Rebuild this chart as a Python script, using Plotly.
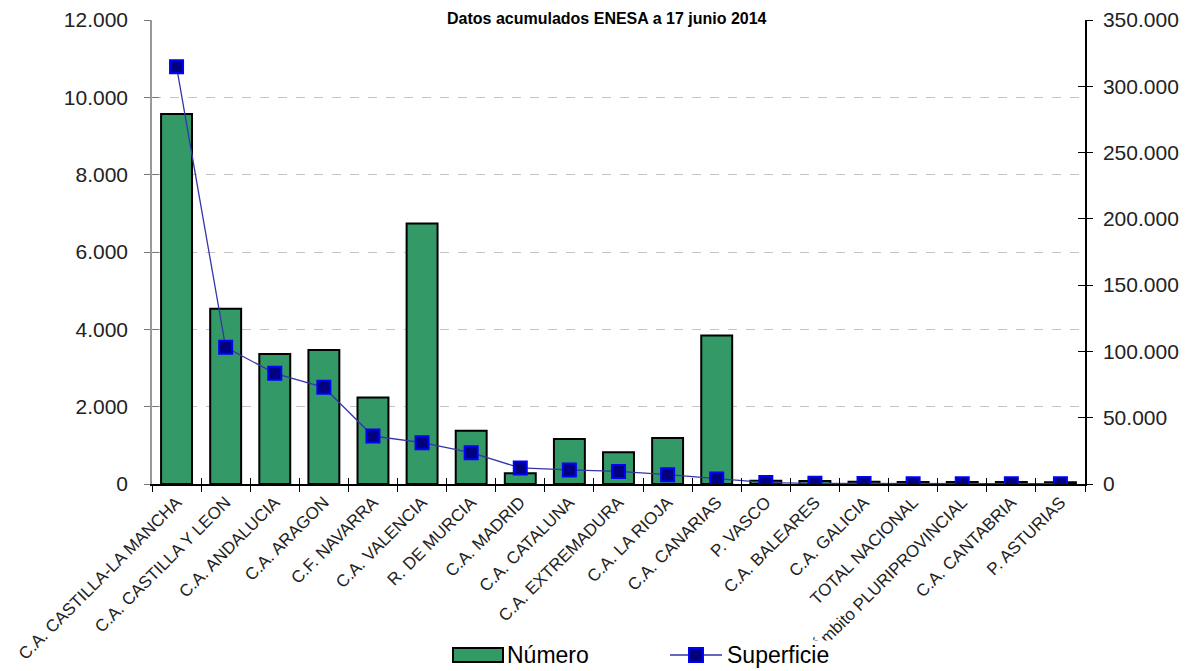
import plotly.graph_objects as go

categories = [
    "C.A. CASTILLA-LA MANCHA", "C.A. CASTILLA Y LEON", "C.A. ANDALUCIA", "C.A. ARAGON",
    "C.F. NAVARRA", "C.A. VALENCIA", "R. DE MURCIA", "C.A. MADRID", "C.A. CATALUNA",
    "C.A. EXTREMADURA", "C.A. LA RIOJA", "C.A. CANARIAS", "P. VASCO", "C.A. BALEARES",
    "C.A. GALICIA", "TOTAL NACIONAL", "Ámbito PLURIPROVINCIAL", "C.A. CANTABRIA", "P. ASTURIAS",
]
numero = [9570, 4530, 3360, 3465, 2240, 6740, 1380, 280, 1165, 820, 1190, 3840,
          85, 80, 60, 50, 50, 50, 45]
superficie = [314800, 103100, 83500, 72900, 36200, 31200, 23600, 12100, 10600, 9500,
              7000, 3800, 1100, 500, 300, 250, 250, 250, 250]

left_ticks = [0, 2000, 4000, 6000, 8000, 10000, 12000]
right_ticks = [0, 50000, 100000, 150000, 200000, 250000, 300000, 350000]
title_text = "Datos acumulados ENESA a 17 junio 2014"

FONT = "Liberation Sans, Arial, sans-serif"
GREEN = "#339966"
NAVY = "#000080"
BLUE = "#0000FF"
LINE = "#3535A8"

# the page body adds an 8px offset; compensate so the plot lands where the reference has it
OFF = 8
W, H = 1191 - OFF, 671 - OFF
PL, PR, PT, PB = 152, 1085, 20, 484          # target plot box in page pixels
ML, MT = PL - OFF, PT - OFF
MR, MB = W - (PR - OFF), H - (PB - OFF)
PW, PH = PR - PL, PB - PT

fig = go.Figure()
fig.add_trace(go.Bar(
    x=categories, y=numero, name="Número",
    marker=dict(color=GREEN, line=dict(color="black", width=2)),
    yaxis="y", xaxis="x", showlegend=False,
))
fig.add_trace(go.Scatter(
    x=categories, y=superficie, name="Superficie", mode="lines+markers",
    line=dict(color=LINE, width=1.3),
    marker=dict(symbol="square", size=13, color=NAVY, line=dict(color=BLUE, width=2)),
    yaxis="y2", xaxis="x", showlegend=False,
))
# helper traces so that the cross-tick overlay axes are drawn
fig.add_trace(go.Scatter(x=[], y=[], xaxis="x2", yaxis="y3", showlegend=False, hoverinfo="skip"))
fig.add_trace(go.Scatter(x=[], y=[], xaxis="x2", yaxis="y4", showlegend=False, hoverinfo="skip"))

n = len(categories)
boundaries = [i - 0.5 for i in range(n + 1)]

fig.update_layout(
    width=W, height=H,
    margin=dict(l=ML, r=MR, t=MT, b=MB, autoexpand=False),
    paper_bgcolor="white", plot_bgcolor="white",
    separators=",.",
    font=dict(family=FONT, size=20, color="#222222"),
    bargap=0.37,
    xaxis=dict(
        type="category", range=[-0.5, n - 0.5], autorange=False,
        tickangle=-45, tickson="boundaries", automargin=False,
        ticks="outside", ticklen=6, tickcolor="black", tickwidth=1,
        showline=True, linecolor="black", linewidth=1.5,
        tickfont=dict(family=FONT, size=17, color="#222222"),
        showgrid=False, zeroline=False,
    ),
    xaxis2=dict(
        overlaying="x", anchor="y", range=[-0.5, n - 0.5], tickvals=boundaries, automargin=False,
        ticks="inside", ticklen=6, tickcolor="black", showticklabels=False,
        showgrid=False, zeroline=False, showline=False, side="bottom",
    ),
    yaxis=dict(
        range=[0, 12000], tickvals=left_ticks, tickformat=",d", automargin=False,
        ticks="outside", ticklen=6, tickcolor="#777777", ticklabelstandoff=12,
        showline=True, linecolor="#999999", linewidth=1.5,
        showgrid=True, gridcolor="#c4c4c4", griddash="dash", gridwidth=1,
        zeroline=False, tickfont=dict(family=FONT, size=21, color="#222222"),
    ),
    yaxis3=dict(
        overlaying="y", side="left", anchor="x2", range=[0, 12000], tickvals=left_ticks,
        ticks="inside", ticklen=7, tickcolor="#777777", showticklabels=False, automargin=False,
        showgrid=False, zeroline=False, showline=False,
    ),
    yaxis2=dict(
        overlaying="y", side="right", range=[0, 350000], tickvals=right_ticks, tickformat=",d",
        ticks="outside", ticklen=6, tickcolor="black", automargin=False, ticklabelstandoff=6,
        showline=True, linecolor="black", linewidth=1.5,
        showgrid=False, zeroline=False, tickfont=dict(family=FONT, size=21, color="#222222"),
    ),
    yaxis4=dict(
        overlaying="y", side="right", anchor="x2", range=[0, 350000], tickvals=right_ticks,
        ticks="inside", ticklen=7, tickcolor="black", showticklabels=False, automargin=False,
        showgrid=False, zeroline=False, showline=False,
    ),
    showlegend=False,
)


def px_x(px):
    return (px - PL) / float(PW)


def px_y(py):
    return (PB - py) / float(PH)


# title
fig.add_annotation(
    text="<b>" + title_text + "</b>", xref="paper", yref="paper",
    x=px_x(607), y=px_y(8), xanchor="center", yanchor="top", showarrow=False,
    font=dict(family=FONT, size=16, color="black"),
)

# custom legend, drawn in paper coordinates below the plot
fig.add_shape(type="rect", xref="paper", yref="paper",
              x0=px_x(453), x1=px_x(503), y0=px_y(662), y1=px_y(648),
              fillcolor=GREEN, line=dict(color="black", width=2))
fig.add_annotation(text="Número", xref="paper", yref="paper", x=px_x(505), y=px_y(655),
                   xanchor="left", yanchor="middle", showarrow=False, bgcolor="white",
                   font=dict(family=FONT, size=23, color="black"))
fig.add_shape(type="line", xref="paper", yref="paper",
              x0=px_x(670), x1=px_x(722), y0=px_y(655), y1=px_y(655),
              line=dict(color=LINE, width=1.3))
fig.add_shape(type="rect", xref="paper", yref="paper",
              x0=px_x(689), x1=px_x(703), y0=px_y(662), y1=px_y(648),
              fillcolor=NAVY, line=dict(color=BLUE, width=2))
fig.add_annotation(text="Superficie", xref="paper", yref="paper", x=px_x(725), y=px_y(655),
                   xanchor="left", yanchor="middle", showarrow=False, bgcolor="white",
                   font=dict(family=FONT, size=23, color="black"))

fig.write_html("out.html")
